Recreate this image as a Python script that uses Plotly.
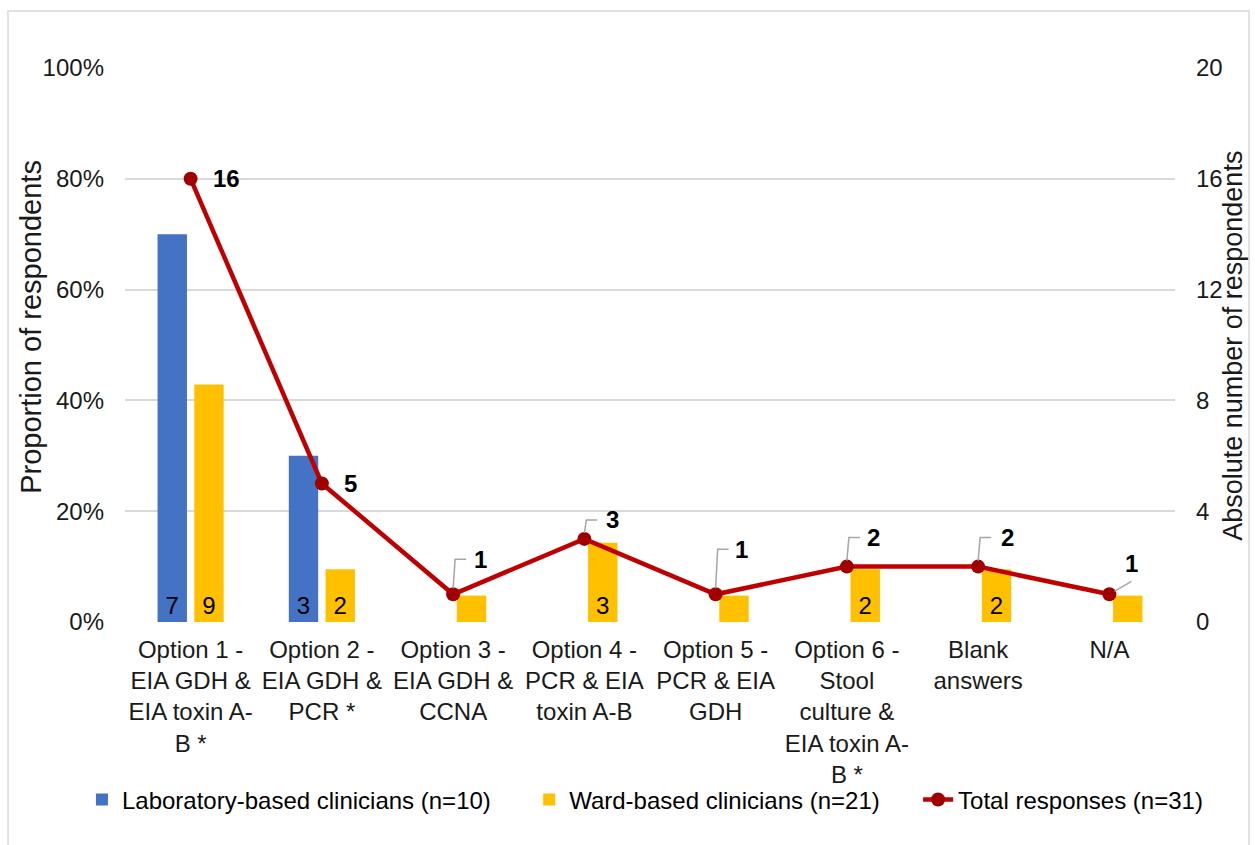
import plotly.graph_objects as go

# ---------------- data ----------------
categories = [
    "Option 1 -<br>EIA GDH &<br>EIA toxin A-<br>B *",
    "Option 2 -<br>EIA GDH &<br>PCR *",
    "Option 3 -<br>EIA GDH &<br>CCNA",
    "Option 4 -<br>PCR & EIA<br>toxin A-B",
    "Option 5 -<br>PCR & EIA<br>GDH",
    "Option 6 -<br>Stool<br>culture &<br>EIA toxin A-<br>B *",
    "Blank<br>answers",
    "N/A",
]
lab_n = 10
ward_n = 21
lab_counts = [7, 3, 0, 0, 0, 0, 0, 0]
ward_counts = [9, 2, 1, 3, 1, 2, 2, 1]
total_counts = [16, 5, 1, 3, 1, 2, 2, 1]

left_ticks = [0, 0.2, 0.4, 0.6, 0.8, 1.0]
left_ticktext = ["0%", "20%", "40%", "60%", "80%", "100%"]
right_ticks = [0, 4, 8, 12, 16, 20]

series_names = [
    "Laboratory-based clinicians (n=10)",
    "Ward-based clinicians (n=21)",
    "Total responses (n=31)",
]

# ---------------- styles ----------------
FONT = "Liberation Sans, Arial, sans-serif"
BLUE = "#4472C4"
GOLD = "#FFC000"
RED = "#C00000"
MARKER_RED = "#A00000"
GRID = "#D9D9D9"
TXT = "#1a1a1a"
LEGEND_PAD = "\u00a0" * 5  # extra spacing between legend entries

# label offsets (pixels) for total labels: (dx, dy), and leader type
label_offsets = [(36, 0), (29, 0), (27, 35), (28, 19), (26, 45), (27, 29), (29, 29), (22, 31)]
leader_types = [None, None, "elbow", "elbow", "elbow", "elbow", "elbow", "diag"]

x_idx = list(range(len(categories)))
lab_pct = [c / lab_n for c in lab_counts]
ward_pct = [c / ward_n for c in ward_counts]
lab_text = [str(c) if c >= 2 else "" for c in lab_counts]
ward_text = [str(c) if c >= 2 else "" for c in ward_counts]

fig = go.Figure()
fig.add_trace(go.Bar(
    x=x_idx, y=lab_pct, name=series_names[0] + LEGEND_PAD,
    marker=dict(color=BLUE, line=dict(width=0)),
    text=lab_text, textposition="inside", insidetextanchor="start",
    textfont=dict(size=24, color="#000000", family=FONT), textangle=0, hoverinfo="skip",
))
fig.add_trace(go.Bar(
    x=x_idx, y=ward_pct, name=series_names[1] + LEGEND_PAD,
    marker=dict(color=GOLD, line=dict(width=0)),
    text=ward_text, textposition="inside", insidetextanchor="start",
    textfont=dict(size=24, color="#000000", family=FONT), textangle=0, hoverinfo="skip",
))
fig.add_trace(go.Scatter(
    x=x_idx, y=total_counts, name=series_names[2], yaxis="y2", mode="lines+markers",
    line=dict(color=RED, width=4.5), marker=dict(color=MARKER_RED, size=14, line=dict(width=0)),
    hoverinfo="skip",
))

annotations = []
shapes = []
for i, v in enumerate(total_counts):
    dx, dy = label_offsets[i]
    annotations.append(dict(
        x=i, y=v, xref="x", yref="y2", text=f"<b>{v}</b>", showarrow=False,
        xshift=dx, yshift=dy, font=dict(size=24, color="#000000", family=FONT),
    ))
    lt = leader_types[i]
    if lt == "elbow":
        path = f"M0,6 L2,{dy} L13,{dy}"
    elif lt == "diag":
        path = f"M5,3 L{dx},{dy - 18}"
    else:
        path = None
    if path:
        shapes.append(dict(
            type="path", xref="x", yref="y2", xsizemode="pixel", ysizemode="pixel",
            xanchor=i, yanchor=v, path=path, line=dict(color="#A6A6A6", width=1.5),
            layer="above",
        ))

# axis titles as annotations
annotations.append(dict(
    x=-0.089, y=0.532, xref="paper", yref="paper", text="Proportion of respondents",
    xanchor="center", yanchor="middle",
    textangle=-90, showarrow=False, font=dict(size=29, color=TXT, family=FONT),
))
annotations.append(dict(
    x=1.055, y=0.498, xref="paper", yref="paper", text="Absolute number of respondents",
    xanchor="center", yanchor="middle",
    textangle=-90, showarrow=False, font=dict(size=27, color=TXT, family=FONT),
))

# outer chart border
shapes.append(dict(
    type="rect", xref="paper", yref="paper", x0=-0.1114, x1=1.0705, y0=-0.45, y1=1.1029,
    line=dict(color=GRID, width=1.5), fillcolor="rgba(0,0,0,0)", layer="below",
))

fig.update_layout(
    width=1255, height=845,
    margin=dict(l=125, r=80, t=68, b=223, autoexpand=False),
    paper_bgcolor="white", plot_bgcolor="white",
    font=dict(family=FONT, size=24, color=TXT),
    barmode="group", bargap=0.44, bargroupgap=0.2,
    xaxis=dict(
        tickmode="array", tickvals=x_idx, ticktext=categories, range=[-0.5, len(categories) - 0.5],
        showgrid=False, zeroline=False, showline=False, ticks="", automargin=False,
        tickfont=dict(size=24, color=TXT, family=FONT), tickangle=0, ticklabelstandoff=11,
    ),
    yaxis=dict(
        range=[0, 1.0], tickvals=left_ticks, ticktext=left_ticktext, automargin=False,
        showgrid=True, gridcolor=GRID, gridwidth=1.5, zeroline=False, showline=False,
        ticks="", ticklabelstandoff=20, tickfont=dict(size=24, color=TXT, family=FONT),
    ),
    yaxis2=dict(
        range=[0, 20], tickvals=right_ticks, overlaying="y", side="right", automargin=False,
        showgrid=False, zeroline=False, showline=False, ticks="",
        ticklabelstandoff=20, tickfont=dict(size=24, color=TXT, family=FONT),
    ),
    legend=dict(
        orientation="h", x=-0.041, xanchor="left",
        y=-0.321, yanchor="middle",
        font=dict(size=24, color="#000000", family=FONT), bgcolor="rgba(0,0,0,0)",
        traceorder="normal",
    ),
    annotations=annotations,
    shapes=shapes,
    showlegend=True,
)

fig.write_html("out.html")
